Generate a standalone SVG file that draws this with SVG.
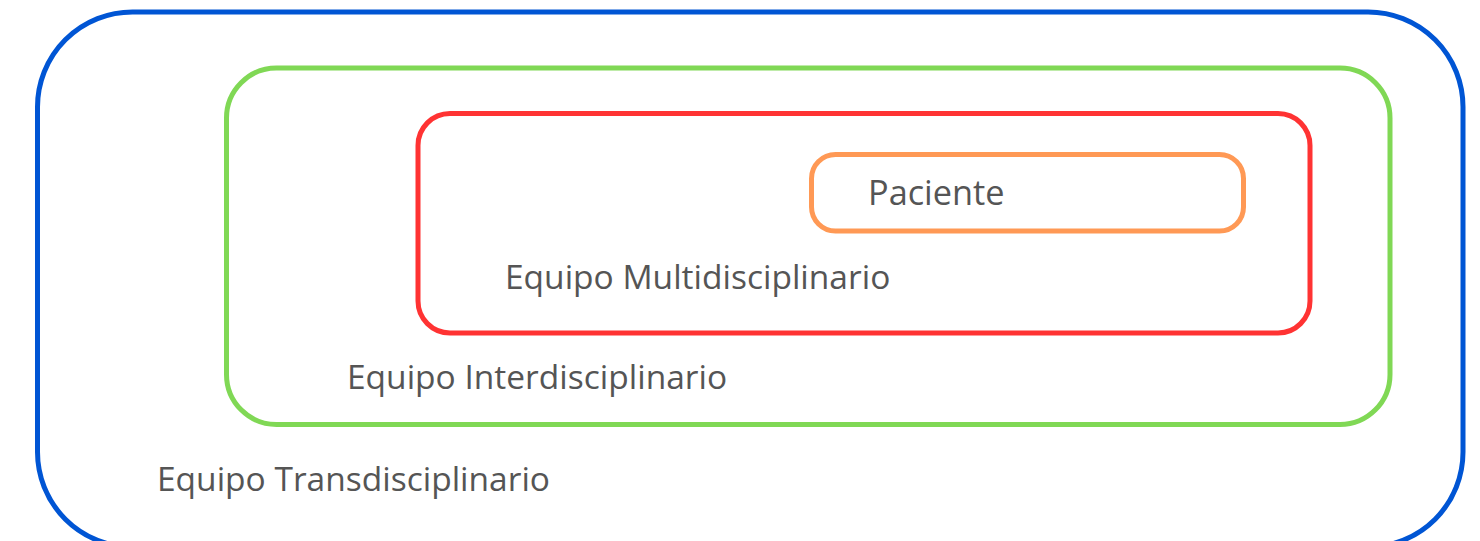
<svg xmlns="http://www.w3.org/2000/svg" width="1480" height="541" viewBox="0 0 1480 541">
<style>
.box{fill:none;stroke-width:5}
.lbl{font-family:"Open Sans",sans-serif;font-size:33.5px;fill:#555555}
</style>
<rect width="1480" height="541" fill="#ffffff"/>
<g id="transdisciplinario">
<rect class="box" x="37.5" y="12" width="1425.5" height="535" rx="95" ry="95" stroke="#0055d4"/>
<text class="lbl" x="157" y="491">Equipo Transdisciplinario</text>
</g>
<g id="interdisciplinario">
<rect class="box" x="226.5" y="68" width="1163.5" height="356.5" rx="50" ry="50" stroke="#80d855"/>
<text class="lbl" x="347" y="388.5">Equipo Interdisciplinario</text>
</g>
<g id="multidisciplinario">
<rect class="box" x="418" y="113.5" width="892" height="219.5" rx="32" ry="32" stroke="#ff3333"/>
<text class="lbl" x="505" y="289">Equipo Multidisciplinario</text>
</g>
<g id="paciente">
<rect class="box" x="811.5" y="154.5" width="432" height="76.5" rx="24" ry="24" stroke="#ff9955"/>
<text class="lbl" x="868" y="204.5" style="font-size:34.3px">Paciente</text>
</g>
<g id="connectors"/>
</svg>
